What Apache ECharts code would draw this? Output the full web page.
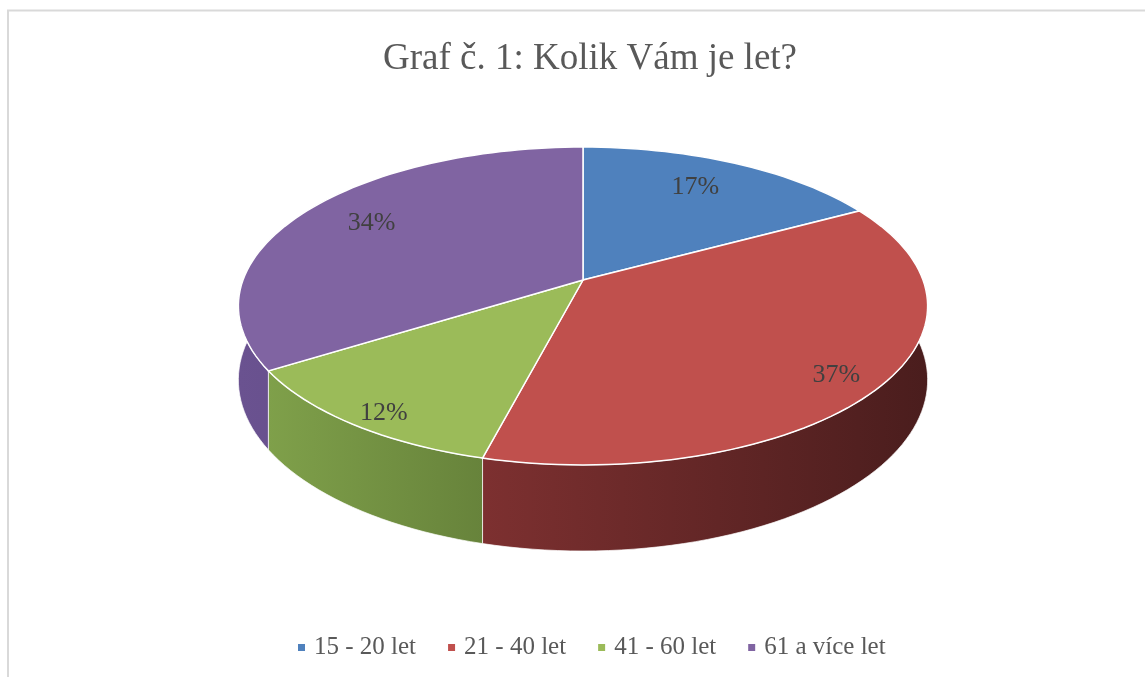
<!DOCTYPE html>
<html>
<head>
<meta charset="utf-8">
<style>html,body{margin:0;padding:0;background:#fff;}#c{width:1145px;height:677px;}</style>
<script src="https://cdn.jsdelivr.net/npm/echarts@6/dist/echarts.min.js"></script>
</head>
<body>
<div id="c"></div>
<script>
// ---- data ----
var categories = ['15 - 20 let', '21 - 40 let', '41 - 60 let', '61 a více let'];
var values = [17, 37, 12, 34];
var titleText = 'Graf č. 1: Kolik Vám je let?';

// ---- styles ----
var topColors = ['#4f81bd', '#c0504d', '#9bbb59', '#8064a2'];
var wallColors = [
  ['#3a6292', '#2f5078'],
  ['#7d3030', '#4a1d1d'],
  ['#7fa04a', '#67833b'],
  ['#6a5290', '#5c4680']
];
var FONT = '"Liberation Serif", serif';

// ---- 3D projection layout ----
var CX = 583, CY = 280, RX = 340, RY = 154.7, K = 0.1635, DEPTH = 72;
function proj(u, v, h) {
  var d = 1 - K * v;
  return [CX + RX * u / d, CY + (RY * v + DEPTH * h) / d];
}
function rim(frac, r, h) {
  var a = frac * Math.PI * 2;
  return proj(Math.sin(a) * r, -Math.cos(a) * r, h);
}

var total = values.reduce(function (s, x) { return s + x; }, 0);
var starts = [];
var acc = 0;
values.forEach(function (v) { starts.push(acc / total); acc += v; });

function makeRender(i) {
  return function (params, api) {
    var val = api.value(0);
    var f0 = starts[i], f1 = f0 + val / total;
    var steps = Math.max(8, Math.ceil((f1 - f0) * 200));
    var topPts = [proj(0, 0, 0)];
    var wallTop = [], wallBot = [];
    for (var s = 0; s <= steps; s++) {
      var f = f0 + (f1 - f0) * s / steps;
      topPts.push(rim(f, 1, 0));
      wallTop.push(rim(f, 1, 0));
      wallBot.push(rim(f, 1, 1));
    }
    var wallPts = wallTop.concat(wallBot.reverse());
    var fm = (f0 + f1) / 2;
    var vm = -Math.cos(fm * Math.PI * 2);
    var lr = 0.8 + 0.1 * vm;
    var lp = rim(fm, lr, 0.12 * vm);
    var pct = Math.round(val / total * 100) + '%';
    return {
      type: 'group',
      children: [
        {
          type: 'polygon', z2: 1,
          shape: { points: wallPts },
          style: {
            fill: { type: 'linear', x: 0, y: 0, x2: 1, y2: 0,
              colorStops: [{ offset: 0, color: wallColors[i][0] }, { offset: 1, color: wallColors[i][1] }] },
            stroke: 'rgba(255,255,255,0.7)', lineWidth: 1
          }
        },
        {
          type: 'polygon', z2: 10,
          shape: { points: topPts },
          style: { fill: topColors[i], stroke: '#ffffff', lineWidth: 1.5 }
        },
        {
          type: 'text', z2: 20,
          x: lp[0], y: lp[1],
          style: { text: pct, fill: '#404040', font: '26px ' + FONT, align: 'center', verticalAlign: 'middle' }
        }
      ]
    };
  };
}

var series = categories.map(function (name, i) {
  return {
    type: 'custom',
    name: name,
    coordinateSystem: 'none',
    itemStyle: { color: topColors[i] },
    data: [[values[i]]],
    renderItem: makeRender(i)
  };
});

var chart = echarts.init(document.getElementById('c'), null, { renderer: 'canvas' });
chart.setOption({
  animation: false,
  color: topColors,
  title: {
    text: titleText, left: 585, textAlign: 'center', top: 36,
    textStyle: { fontFamily: FONT, fontSize: 37, fontWeight: 'normal', color: '#595959' }
  },
  legend: {
    data: categories, bottom: 12, left: 293,
    icon: 'rect', itemWidth: 7, itemHeight: 7, itemGap: 32,
    textStyle: { fontFamily: FONT, fontSize: 25, color: '#595959', padding: [0, 0, 0, 4] }
  },
  graphic: [
    { type: 'line', shape: { x1: 7, y1: 10.5, x2: 1145, y2: 10.5 }, style: { stroke: '#d9d9d9', lineWidth: 2 } },
    { type: 'line', shape: { x1: 8, y1: 10, x2: 8, y2: 677 }, style: { stroke: '#d9d9d9', lineWidth: 2 } }
  ],
  series: series
});
</script>
</body>
</html>
